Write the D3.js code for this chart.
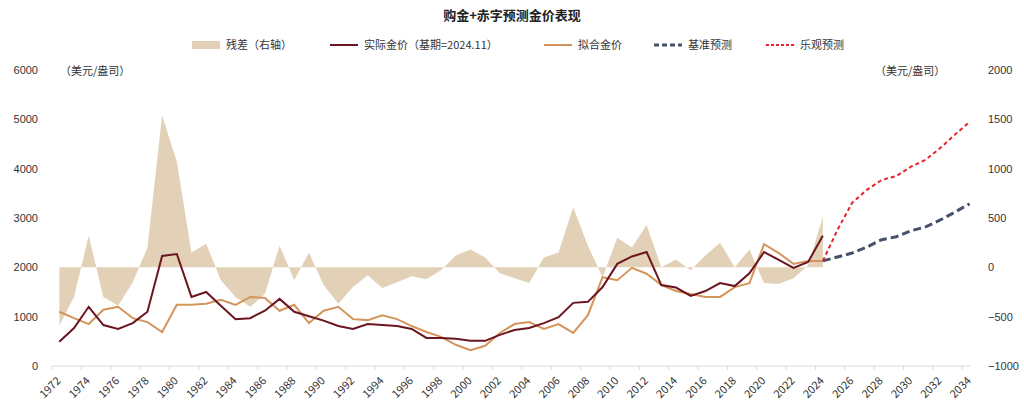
<!DOCTYPE html>
<html><head><meta charset="utf-8">
<script src="https://cdn.jsdelivr.net/npm/d3@7"></script>
<style>body{margin:0;background:#fff;font-family:"Noto Sans CJK SC","Liberation Sans",sans-serif;}</style>
</head><body><svg id="c" width="1024" height="406"></svg>
<script>
var years = d3.range(1972, 2035);
var histYears = d3.range(1972, 2025);
var actual = [490,770,1200,830,750,870,1100,2230,2270,1400,1500,1220,950,970,1120,1360,1100,1010,920,810,750,850,830,810,750,570,570,550,510,510,630,730,770,870,990,1280,1300,1600,2070,2220,2310,1640,1590,1420,1520,1680,1620,1880,2310,2150,1990,2110,2640];
var fitted = [1100,970,850,1140,1200,970,890,690,1240,1240,1260,1340,1240,1400,1380,1120,1240,870,1120,1200,950,930,1030,950,810,690,590,430,320,410,670,850,890,750,850,670,1030,1800,1740,1990,1870,1640,1520,1460,1400,1400,1600,1680,2470,2290,2070,2130,2130];
var residual = [-590,-300,320,-300,-390,-150,200,1540,1070,150,240,-130,-300,-400,-270,220,-130,150,-180,-370,-200,-80,-210,-150,-90,-120,-30,120,180,100,-60,-110,-160,100,150,610,220,-100,300,200,430,0,80,-30,120,250,0,180,-160,-170,-110,20,510];
var fcYears = d3.range(2024, 2035);
var baseFc = [2130,2210,2290,2410,2560,2620,2740,2820,2960,3120,3290];
var optFc = [2130,2760,3310,3570,3770,3850,4040,4180,4420,4690,4950];

var svg = d3.select('#c');
var x = d3.scaleBand().domain(years).range([52, 977]);
var cx = function(yr) { return x(yr) + x.bandwidth() / 2; };
var yL = d3.scaleLinear().domain([0, 6000]).range([366, 70]);
var yR = d3.scaleLinear().domain([-1000, 2000]).range([366, 70]);

svg.append('text').attr('x', 512).attr('y', 20).attr('text-anchor', 'middle')
    .attr('font-size', 13).attr('font-weight', 'bold').attr('fill', '#222').text('购金+赤字预测金价表现');

// residual area
svg.append('path').datum(histYears)
    .attr('fill', '#e2d1b6')
    .attr('d', d3.area().x(cx).y0(yR(0)).y1(function(d, i) { return yR(residual[i]); }));

function line(xs, vals, color, w, dash) {
    svg.append('path').datum(xs)
        .attr('fill', 'none').attr('stroke', color).attr('stroke-width', w)
        .attr('stroke-dasharray', dash || null)
        .attr('d', d3.line().x(cx).y(function(d, i) { return yL(vals[i]); }));
}
line(histYears, fitted, '#d4955c', 2);
line(histYears, actual, '#6b1520', 2);
line(fcYears, baseFc, '#46526a', 3, '8,4');
line(fcYears, optFc, '#e8232b', 2, '4,3');

// axes
var xAxis = svg.append('g').attr('transform', 'translate(0,366)');
xAxis.append('line').attr('x1', 52).attr('x2', 970).attr('stroke', '#d9d9d9');
years.filter(function(d) { return (d - 1972) % 2 === 0; }).forEach(function(d) {
    xAxis.append('line').attr('x1', x(d)).attr('x2', x(d)).attr('y2', 4).attr('stroke', '#d9d9d9');
    xAxis.append('text').attr('transform', 'translate(' + (x(d) + 4) + ',10) rotate(-45)')
        .attr('text-anchor', 'end').attr('dy', '0.7em').attr('font-size', 11).attr('fill', '#333').text(d);
});
var gl = svg.append('g').attr('transform', 'translate(38,0)')
    .call(d3.axisLeft(yL).tickValues(d3.range(0, 6001, 1000)).tickSize(0).tickPadding(0).tickFormat(d3.format('d')));
var gr = svg.append('g').attr('transform', 'translate(988,0)')
    .call(d3.axisRight(yR).tickValues(d3.range(-1000, 2001, 500)).tickSize(0).tickPadding(0).tickFormat(d3.format('d')));
[gl, gr].forEach(function(g) {
    g.select('.domain').remove();
    g.selectAll('text').attr('font-size', 11).attr('fill', '#333').attr('font-family', '"Liberation Sans",sans-serif');
});
svg.append('text').attr('x', 60).attr('y', 75).attr('font-size', 11).attr('fill', '#333').text('（美元/盎司）');
svg.append('text').attr('x', 875).attr('y', 75).attr('font-size', 11).attr('fill', '#333').text('（美元/盎司）');

// legend
var items = [
    {x: 192, label: '残差（右轴）', color: '#e2d1b6', w: 8},
    {x: 330, label: '实际金价（基期=2024.11）', color: '#6b1520', w: 2},
    {x: 544, label: '拟合金价', color: '#d4955c', w: 2},
    {x: 654, label: '基准预测', color: '#46526a', w: 3, dash: '5,3'},
    {x: 766, label: '乐观预测', color: '#e8232b', w: 2, dash: '3,2'}
];
items.forEach(function(it) {
    svg.append('line').attr('x1', it.x).attr('x2', it.x + 28).attr('y1', 45).attr('y2', 45)
        .attr('stroke', it.color).attr('stroke-width', it.w).attr('stroke-dasharray', it.dash || null);
    svg.append('text').attr('x', it.x + 34).attr('y', 49).attr('font-size', 11).attr('fill', '#333').text(it.label);
});
</script></body></html>
